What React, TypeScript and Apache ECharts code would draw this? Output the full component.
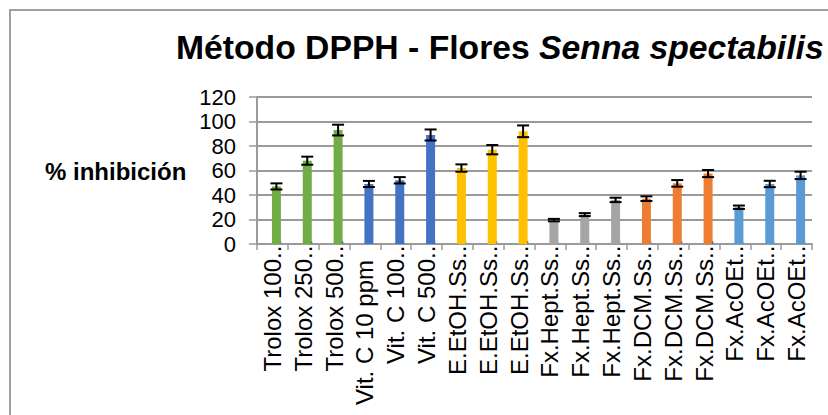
import React, { useEffect, useRef } from "react";
import * as echarts from "echarts";

const categories = [
  "Trolox 100...", "Trolox 250...", "Trolox 500...",
  "Vit. C 10 ppm", "Vit. C 100...", "Vit. C 500...",
  "E.EtOH.Ss...", "E.EtOH.Ss...", "E.EtOH.Ss...",
  "Fx.Hept.Ss...", "Fx.Hept.Ss...", "Fx.Hept.Ss...",
  "Fx.DCM.Ss...", "Fx.DCM.Ss...", "Fx.DCM.Ss...",
  "Fx.AcOEt...", "Fx.AcOEt...", "Fx.AcOEt...",
];
const inhibition = [47, 68, 93, 49, 52, 89, 62, 77, 92, 19.5, 24, 36, 37, 49.5, 57.5, 30, 49, 56];
const errors = [2.5, 3.3, 4.4, 2.5, 2.6, 4.5, 3, 3.8, 4.8, 1, 1.2, 1.8, 1.9, 2.7, 2.9, 1.4, 2.6, 3];
const barColors = [
  "#70AD47", "#70AD47", "#70AD47",
  "#4472C4", "#4472C4", "#4472C4",
  "#FFC000", "#FFC000", "#FFC000",
  "#A5A5A5", "#A5A5A5", "#A5A5A5",
  "#ED7D31", "#ED7D31", "#ED7D31",
  "#5B9BD5", "#5B9BD5", "#5B9BD5",
];
const yTicks = { min: 0, max: 120, interval: 20 };

const BAR_OFFSET = 4;
const FONT = "'Liberation Sans', Arial, sans-serif";
const GRID = "#9a9a9a";

export default function App() {
  const ref = useRef<HTMLDivElement>(null);
  useEffect(() => {
    if (!ref.current) return;
    const chart = echarts.init(ref.current, undefined, { renderer: "svg" });
    chart.setOption({
      animation: false,
      backgroundColor: "#ffffff",
      title: {
        text: "{a|Método DPPH - Flores }{b|Senna spectabilis}",
        left: 176,
        top: 30,
        padding: 0,
        textStyle: {
          rich: {
            a: { fontFamily: FONT, fontWeight: "bold", fontSize: 33.7, color: "#000" },
            b: { fontFamily: FONT, fontWeight: "bold", fontStyle: "italic", fontSize: 33.7, color: "#000" },
          },
        },
      },
      graphic: [
        {
          type: "rect",
          shape: { x: 10, y: 10, width: 840, height: 440 },
          style: { fill: "none", stroke: "#a0a0a0", lineWidth: 2 },
          silent: true,
        },
        {
          type: "text",
          x: 45,
          y: 171,
          style: {
            text: "% inhibición",
            fontFamily: FONT,
            fontWeight: "bold",
            fontSize: 24,
            fill: "#000",
            verticalAlign: "middle",
            align: "left",
          },
        },
      ],
      grid: { left: 257, right: 16, top: 97, bottom: 171, containLabel: false },
      xAxis: {
        type: "category",
        data: categories,
        boundaryGap: true,
        axisLine: { show: true, lineStyle: { color: GRID, width: 2 } },
        axisTick: { show: true, interval: 0, length: 6, lineStyle: { color: GRID, width: 1.5 } },
        axisLabel: {
          interval: 0,
          rotate: 90,
          margin: -5,
          fontFamily: FONT,
          fontSize: 24,
          color: "#000",
          formatter: (v: string) => (v.endsWith("...") ? "{t|" + v + "}" : "{f|" + v + "}"),
          rich: {
            t: { fontFamily: FONT, fontSize: 24, color: "#000" },
            f: { fontFamily: FONT, fontSize: 24, color: "#000", padding: [0, 21, 0, 0] },
          },
        },
        splitLine: { show: false },
      },
      yAxis: {
        type: "value",
        min: yTicks.min,
        max: yTicks.max,
        interval: yTicks.interval,
        axisLine: { show: true, lineStyle: { color: GRID, width: 2 } },
        axisTick: { show: true, length: 8, lineStyle: { color: GRID, width: 1.5 } },
        axisLabel: { fontFamily: FONT, fontSize: 22, color: "#000", margin: 21 },
        splitLine: { show: true, lineStyle: { color: GRID, width: 2 } },
      },
      series: [
        {
          type: "bar",
          data: categories.map(() => null),
          barWidth: 9,
          barGap: "-11%",
          silent: true,
        },
        {
          type: "bar",
          data: inhibition.map((v, i) => ({ value: v, itemStyle: { color: barColors[i] } })),
          barWidth: 9,
          barGap: "-11%",
        },
        {
          type: "custom",
          z: 10,
          data: inhibition.map((v, i) => [i, v, errors[i]]),
          encode: { x: 0, y: 1 },
          renderItem: (params: any, api: any) => {
            const idx = api.value(0);
            const v = api.value(1);
            const e = api.value(2);
            const top = api.coord([idx, v + e]);
            const bot = api.coord([idx, v - e]);
            const x = top[0] + BAR_OFFSET;
            const hw = 6;
            const st = { stroke: "#000", lineWidth: 2 };
            return {
              type: "group",
              children: [
                { type: "line", shape: { x1: x, y1: top[1], x2: x, y2: bot[1] }, style: st },
                { type: "line", shape: { x1: x - hw, y1: top[1], x2: x + hw, y2: top[1] }, style: st },
                { type: "line", shape: { x1: x - hw, y1: bot[1], x2: x + hw, y2: bot[1] }, style: st },
              ],
            };
          },
        },
      ],
    });
    return () => chart.dispose();
  }, []);
  return (
    <div
      ref={ref}
      style={{ position: "fixed", left: 0, top: 0, width: 828, height: 415, background: "#fff" }}
    />
  );
}
